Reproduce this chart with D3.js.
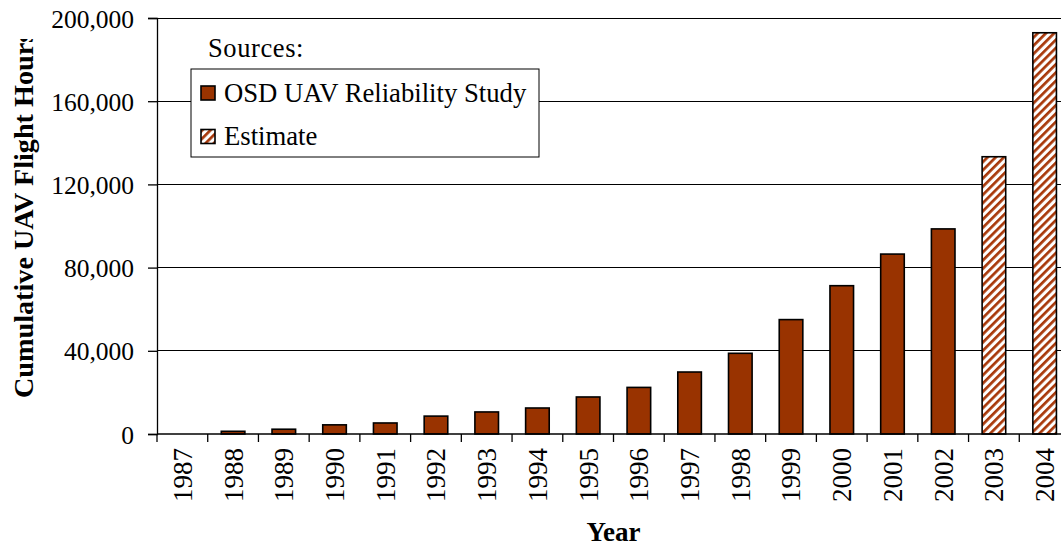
<!DOCTYPE html>
<html>
<head>
<meta charset="utf-8">
<script src="https://cdnjs.cloudflare.com/ajax/libs/d3/7.8.4/d3.min.js"></script>
<style>
html, body { margin: 0; padding: 0; background: #fff; overflow: hidden; }
text { font-family: "Liberation Serif", "Times New Roman", serif; fill: #000; }
</style>
</head>
<body>
<div id="svg-container"></div>
<script>
// data
const years = ["1987", "1988", "1989", "1990", "1991", "1992", "1993", "1994", "1995",
               "1996", "1997", "1998", "1999", "2000", "2001", "2002", "2003", "2004"];
const hours = [0, 1300, 2300, 4400, 5300, 8600, 10600, 12500, 17800,
               22400, 29800, 38800, 55000, 71300, 86500, 98600, 133300, 192900];
const source = ["study", "study", "study", "study", "study", "study", "study", "study", "study",
                "study", "study", "study", "study", "study", "study", "study", "estimate", "estimate"];
const yTicks = [0, 40000, 80000, 120000, 160000, 200000];
const legendItems = [
  {key: "study", label: "OSD UAV Reliability Study"},
  {key: "estimate", label: "Estimate"}
];

(function(){
  const W = 1061, H = 546;
  // plot area runs a bit past the right edge, like the original crop
  const margin = {top: 18, left: 157, bottom: 112, right: -9};
  const width = W - margin.left - margin.right,
        height = H - margin.top - margin.bottom;

  const svg = d3.select("#svg-container")
    .append("svg")
    .attr("width", W)
    .attr("height", H);

  const defs = svg.append("defs");
  const pat = defs.append("pattern")
    .attr("id", "hatch")
    .attr("patternUnits", "userSpaceOnUse")
    .attr("width", 5.8)
    .attr("height", 5.8)
    .attr("patternTransform", "rotate(45)");
  pat.append("rect").attr("width", 5.8).attr("height", 5.8).attr("fill", "#fff");
  pat.append("rect").attr("width", 2.7).attr("height", 5.8).attr("fill", "#a8380a");

  // the y title is cut off at the top in the original
  defs.append("clipPath").attr("id", "titleClip")
    .append("rect").attr("x", 0).attr("y", 39).attr("width", 60).attr("height", 420);

  const g = svg.append("g")
    .attr("transform", `translate(${margin.left},${margin.top})`);

  const x = d3.scaleBand().domain(years).range([0, width]).padding(0);
  const y = d3.scaleLinear().domain([0, 200000]).range([height, 0]);

  const color = {study: "#993300", estimate: "url(#hatch)"};

  // gridlines
  g.selectAll(".grid")
    .data(yTicks.filter(d => d > 0))
    .join("line")
    .attr("x1", 0).attr("x2", width)
    .attr("y1", d => y(d)).attr("y2", d => y(d))
    .attr("stroke", "#000").attr("stroke-width", 1)
    .attr("shape-rendering", "crispEdges");

  // y axis
  const yAxis = g.append("g")
    .call(d3.axisLeft(y).tickValues(yTicks).tickFormat(d3.format(",")).tickSize(9).tickPadding(14));
  yAxis.select(".domain").attr("stroke", "#000").attr("stroke-width", 1.3);
  yAxis.selectAll(".tick line").attr("stroke", "#000").attr("stroke-width", 1.3);
  yAxis.selectAll("text")
    .style("font-family", '"Liberation Serif", "Times New Roman", serif')
    .style("font-size", "25.5px")
    .attr("dy", "0.36em")
    .attr("fill", "#000");

  // bars
  const barW = x.bandwidth() * 0.465;
  g.selectAll(".bar")
    .data(years.map((yr, i) => ({year: yr, value: hours[i], src: source[i]})))
    .join("rect")
    .attr("class", "bar")
    .attr("x", d => x(d.year) + (x.bandwidth() - barW) / 2)
    .attr("y", d => y(d.value))
    .attr("width", barW)
    .attr("height", d => height - y(d.value))
    .attr("fill", d => color[d.src])
    .attr("stroke", "#000")
    .attr("stroke-width", d => d.value > 0 ? 1.6 : 0);

  // x axis: line + ticks at band edges
  g.append("line")
    .attr("x1", 0).attr("x2", width)
    .attr("y1", height).attr("y2", height)
    .attr("stroke", "#000").attr("stroke-width", 1.3);
  g.selectAll(".xtick")
    .data(years)
    .join("line")
    .attr("x1", d => x(d)).attr("x2", d => x(d))
    .attr("y1", height).attr("y2", height + 8)
    .attr("stroke", "#000").attr("stroke-width", 1.3);
  g.selectAll(".xlabel")
    .data(years)
    .join("text")
    .attr("transform", d => `translate(${x(d) + x.bandwidth() / 2},${height + 14}) rotate(-90)`)
    .attr("text-anchor", "end")
    .attr("dy", "0.35em")
    .style("font-size", "27px")
    .text(d => d);

  // axis titles
  svg.append("text")
    .attr("x", margin.left + width / 2)
    .attr("y", 541)
    .attr("text-anchor", "middle")
    .style("font-size", "27px")
    .style("font-weight", "bold")
    .text("Year");

  svg.append("g").attr("clip-path", "url(#titleClip)")
    .append("text")
    .attr("transform", "translate(33,398) rotate(-90)")
    .attr("text-anchor", "start")
    .style("font-size", "28.2px")
    .style("font-weight", "bold")
    .text("Cumulative UAV Flight Hours");

  // legend
  svg.append("text")
    .attr("x", 208).attr("y", 57)
    .style("font-size", "26.5px")
    .style("letter-spacing", "0.6px")
    .text("Sources:");

  const lg = svg.append("g").attr("transform", "translate(191,69)");
  lg.append("rect")
    .attr("width", 348).attr("height", 88)
    .attr("fill", "#fff").attr("stroke", "#000").attr("stroke-width", 1);
  const item = lg.selectAll(".item")
    .data(legendItems)
    .join("g")
    .attr("transform", (d, i) => `translate(10,${17 + i * 43.5})`);
  item.append("rect")
    .attr("width", 14).attr("height", 14)
    .attr("fill", d => color[d.key])
    .attr("stroke", "#000").attr("stroke-width", 1.6);
  item.append("text")
    .attr("x", 23).attr("y", 15.5)
    .style("font-size", "26.7px")
    .text(d => d.label);
})();
</script>
</body>
</html>
